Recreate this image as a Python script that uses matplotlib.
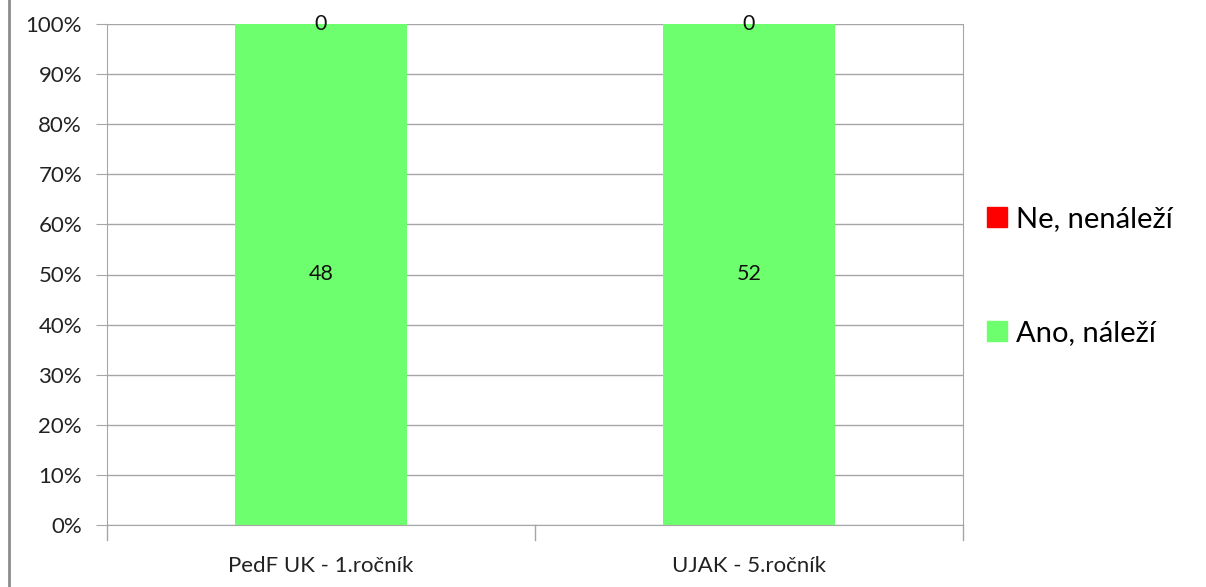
import matplotlib
matplotlib.use("Agg")
import matplotlib.pyplot as plt
from matplotlib.lines import Line2D
import numpy as np

plt.rcParams["font.family"] = ["Lato", "DejaVu Sans"]

groups = ["PedF UK - 1.ročník", "UJAK - 5.ročník"]
ano = [48, 52]   # Ano, náleží
ne = [0, 0]      # Ne, nenáleží
GREEN, RED, GRID = "#6EFF6E", "#FF0000", "#A6A6A6"

ano_a, ne_a = np.array(ano, float), np.array(ne, float)
tot = ano_a + ne_a
ano_pct, ne_pct = ano_a / tot * 100, ne_a / tot * 100

fig = plt.figure(figsize=(12.06, 5.87), dpi=100)
ax = fig.add_axes([107/1206, 1-525/587, (963-107)/1206, (525-24)/587])
x = np.arange(len(groups))
w = 0.4
ax.bar(x, ano_pct, w, color=GREEN, zorder=2)
ax.bar(x, ne_pct, w, bottom=ano_pct, color=RED, zorder=2)

for i in range(len(groups)):
    ax.text(x[i], ano_pct[i]/2, str(ano[i]), ha="center", va="center", fontsize=15.5, color="#111111", zorder=3)
    ax.text(x[i], ano_pct[i] + ne_pct[i]/2, str(ne[i]), ha="center", va="center", fontsize=15.5, color="#111111", zorder=3)

ax.set_xlim(-0.5, len(groups) - 0.5)
ax.set_ylim(0, 100)
ax.set_yticks(np.arange(0, 101, 10))
ax.set_yticklabels([f"{v}%" for v in range(0, 101, 10)], fontsize=16, color="#222222")
ax.yaxis.grid(True, color=GRID, lw=1, zorder=0)
ax.set_xticks(x)
ax.set_xticklabels(groups, fontsize=16, color="#222222")
ax.tick_params(axis="x", length=0, pad=22)
ax.tick_params(axis="y", length=8, color=GRID, pad=10)
# category separators on the x axis
for b in [-0.5, 0.5, 1.5]:
    ax.plot([b, b], [0, -3], color=GRID, lw=1, clip_on=False)
ax.spines["top"].set_visible(False)
for s in ["left", "bottom", "right"]:
    ax.spines[s].set_color(GRID)

handles = [Line2D([], [], marker="s", ls="", color=RED, markersize=14),
           Line2D([], [], marker="s", ls="", color=GREEN, markersize=14)]
fig.legend(handles, ["Ne, nenáleží", "Ano, náleží"], loc="center left",
           bbox_to_anchor=(956/1206, 1-276/587), frameon=False, fontsize=21,
           labelspacing=3.0, handletextpad=0.15, handlelength=1.0)

fig.add_artist(Line2D([9/1206, 9/1206], [0, 1], color="#8C8C8C", lw=2))
fig.savefig("out.png", dpi=100)
